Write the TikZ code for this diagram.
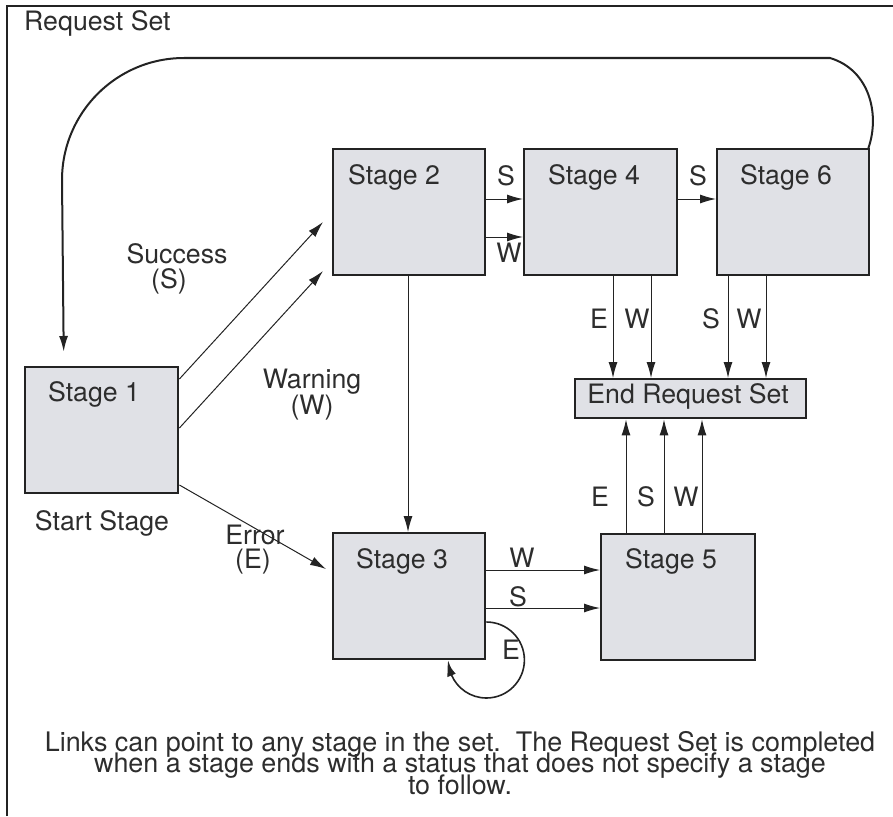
\documentclass[tikz,border=0pt]{standalone}
\usepackage{fontspec}
\setmainfont{TeX Gyre Heros}
\usetikzlibrary{arrows.meta,calc,bending}
\definecolor{boxfill}{RGB}{224,225,230}
\definecolor{ink}{RGB}{35,35,35}
\definecolor{textink}{RGB}{45,45,45}
\newcommand{\tightlines}{\lineskiplimit=-60pt\relax\lineskip=0pt\relax}
\begin{document}
\begin{tikzpicture}[x=1pt,y=-1pt,
  stagebox/.style={draw=ink, line width=2.4pt, fill=boxfill, anchor=north west, inner sep=0pt, minimum width=152pt, minimum height=126pt},
  txt/.style={text=textink, font=\fontsize{26.7}{28}\selectfont, inner sep=0pt},
  notetxt/.style={text=textink, font=\fontsize{26.9}{21.5}\selectfont\tightlines, inner sep=0pt, align=center},
  link/.style={draw=ink, line width=1pt, -{Latex[length=16pt,width=9pt]}},
  thicklink/.style={draw=ink, line width=2pt, -{Latex[length=16pt,width=9pt]}},
]
\useasboundingbox (0,0) rectangle (893,816);
% frame
\draw[ink, line width=2pt] (7,816) -- (7,6) -- (893,6);
\node[txt, anchor=west] (title) at (24,23) {Request Set};

% boxes
\node[stagebox, minimum width=153pt] (s1) at (24,366) {};
\node[stagebox] (s2) at (332,148) {};
\node[stagebox, minimum width=153pt] (s4) at (523,148) {};
\node[stagebox] (s6) at (716,148) {};
\node[stagebox] (s3) at (332,532) {};
\node[stagebox, minimum width=154pt] (s5) at (600,533) {};
\node[stagebox, minimum width=231pt, minimum height=39pt] (end) at (574,378) {};

% box texts
\node[txt] (t1) at (94,394) {Stage 1};
\node[txt] (t2) at (394,177) {Stage 2};
\node[txt] (t4) at (594,177) {Stage 4};
\node[txt] (t6) at (786,177) {Stage 6};
\node[txt] (t3) at (402,561) {Stage 3};
\node[txt] (t5) at (671,561) {Stage 5};
\node[txt] (te) at (688,396) {End Request Set};

% free labels
\node[txt] (succ) at (177,254) {Success};
\node[txt] (succs) at (169,281) {(S)};
\node[txt] (warn) at (312,382) {Warning};
\node[txt] (warnw) at (312,408) {(W)};
\node[txt] (start) at (102,523) {Start Stage};
\node[txt] (err) at (255,535) {Error};
\node[txt] (erre) at (253,562) {(E)};

% top loop from stage 6 back to stage 1
\coordinate (loopend) at ($(s1.north)+(-38,-14)$);
\draw[thicklink] ($(s6.north east)+(-2,0)$) .. controls (880,115) and (870,70) .. (830,58)
  -- (184,58) arc[start angle=-90, end angle=-180, radius=122] -- (loopend);

% stage 1 outgoing
\draw[link] ($(s1.north east)+(0,13)$) -- ($(s2.north west)+(-9,74)$);
\draw[link] ($(s1.north east)+(0,62)$) -- ($(s2.north west)+(-9,123)$);
\draw[link] ($(s1.north east)+(0,119)$) -- ($(s3.north west)+(-6,37)$);

% stage 2
\draw[link] (s2.south -| 408,0) -- (s3.north -| 408,0);
\draw[link] ($(s2.north east)+(0,51)$) -- ($(s4.north west)+(0,51)$);
\draw[link] ($(s2.north east)+(0,89)$) -- ($(s4.north west)+(0,89)$);
\node[txt] (l24s) at (506,176) {S};
\node[txt] (l24w) at (509,253) {W};

% stage 4 -> 6
\draw[link] ($(s4.north east)+(0,51)$) -- ($(s6.north west)+(0,51)$);
\node[txt] (l46s) at (698,176) {S};

% to end
\draw[link] (s4.south -| 613,0) -- (end.north -| 613,0);
\draw[link] (s4.south -| 651,0) -- (end.north -| 651,0);
\draw[link] (s6.south -| 728,0) -- (end.north -| 728,0);
\draw[link] (s6.south -| 766,0) -- (end.north -| 766,0);
\node[txt] (l4e) at (599,319) {E};
\node[txt] (l4w) at (637,319) {W};
\node[txt] (l6s) at (711,319) {S};
\node[txt] (l6w) at (749,319) {W};

\draw[link] (s5.north -| 626,0) -- (end.south -| 626,0);
\draw[link] (s5.north -| 664,0) -- (end.south -| 664,0);
\draw[link] (s5.north -| 702,0) -- (end.south -| 702,0);
\node[txt] (l5e) at (600,497) {E};
\node[txt] (l5s) at (646,497) {S};
\node[txt] (l5w) at (686,497) {W};

% stage 3 -> 5
\draw[link] ($(s3.north east)+(0,38)$) -- ($(s5.north west)+(0,37)$);
\draw[link] ($(s3.north east)+(0,76)$) -- ($(s5.north west)+(0,75)$);
\node[txt] (l35w) at (522,558) {W};
\node[txt] (l35s) at (518,597) {S};

% self loop
\draw[draw=ink, line width=1.6pt, -{Latex[length=16pt,width=9pt,bend]}] ($(s3.north east)+(0,90)$) arc[start angle=-90, end angle=180, radius=38];
\node[txt] (l3e) at (511,650) {E};

% note
\node[notetxt, anchor=north] (note) at (460,731) {Links can point to any stage in the set.\ \ The Request Set is completed\\
when a stage ends with a status that does not specify a stage\hspace*{44pt}\\
to follow.};
\end{tikzpicture}
\end{document}
